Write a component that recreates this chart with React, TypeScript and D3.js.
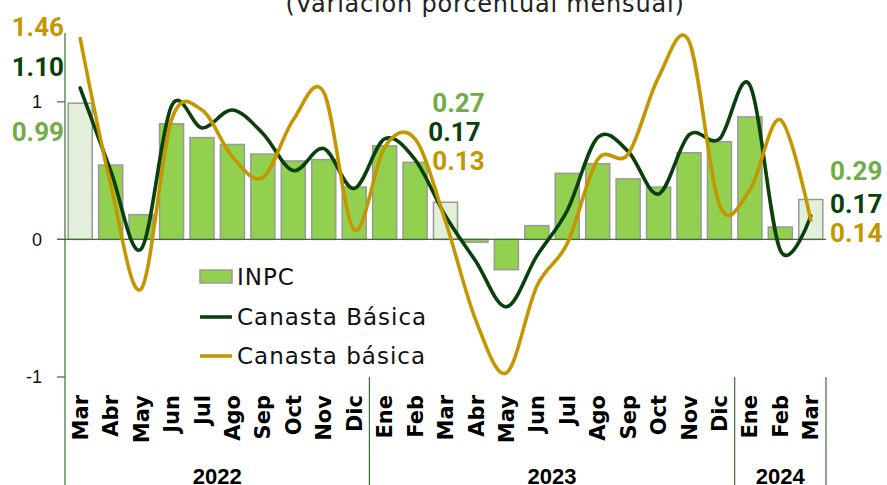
import React, { useEffect, useRef } from "react";
import * as d3 from "d3";

// meses de mar-2022 a mar-2024
const months = ["Mar", "Abr", "May", "Jun", "Jul", "Ago", "Sep", "Oct", "Nov", "Dic",
  "Ene", "Feb", "Mar", "Abr", "May", "Jun", "Jul", "Ago", "Sep", "Oct", "Nov", "Dic",
  "Ene", "Feb", "Mar"];
const yearLabels = ["2022", "2023", "2024"];
const yearStart = [0, 10, 22];
const yearEnd = [9, 21, 24];

const inpc = [0.99, 0.54, 0.18, 0.84, 0.74, 0.69, 0.62, 0.57, 0.58, 0.38,
  0.68, 0.56, 0.27, -0.02, -0.22, 0.10, 0.48, 0.55, 0.44, 0.38, 0.63, 0.71,
  0.89, 0.09, 0.29];
const canastaVerde = [1.10, 0.50, -0.07, 0.97, 0.81, 0.94, 0.77, 0.50, 0.66, 0.37,
  0.73, 0.58, 0.17, -0.16, -0.49, -0.12, 0.21, 0.74, 0.64, 0.33, 0.76, 0.73,
  1.12, -0.08, 0.17];
const canastaOro = [1.46, 0.40, -0.36, 0.87, 0.94, 0.60, 0.45, 0.87, 1.07, 0.07,
  0.67, 0.73, 0.13, -0.59, -0.97, -0.34, -0.03, 0.58, 0.62, 1.18, 1.44, 0.25,
  0.36, 0.87, 0.14];
const highlighted = [0, 12, 24];
const yTicks = [-1, 0, 1];

const C_BAR = "#92d050";
const C_BAR_LIGHT = "#e2efda";
const C_GREEN = "#0b3f0b";
const C_GOLD = "#c49600";
const C_LABEL = "#70ad47";
const C_AXIS = "#3e6e36";

export default function App() {
  const ref = useRef<SVGSVGElement>(null);

  useEffect(() => {
    const height = 485;
    const left = 65, right = 826, top = 33, bottom = 377;

    const svg = d3.select(ref.current);
    svg.selectAll("*").remove();

    const x = d3.scaleBand<number>()
      .domain(months.map((_, i) => i))
      .range([left, right])
      .paddingInner(0.21)
      .paddingOuter(0.105);
    const cx = (i: number) => (x(i) as number) + x.bandwidth() / 2;

    const y = d3.scaleLinear().domain([-1, 1.5]).range([bottom, top]);

    // title (cut off at the top, as in the original)
    svg.append("text")
      .attr("x", 485).attr("y", 12)
      .attr("text-anchor", "middle")
      .attr("font-family", "DejaVu Sans")
      .attr("font-size", 24)
      .attr("letter-spacing", 0.8)
      .attr("fill", "#222")
      .text("(Variación porcentual mensual)");

    // bars
    svg.selectAll("rect.bar")
      .data(inpc)
      .enter().append("rect")
      .attr("class", "bar")
      .attr("x", (d, i) => x(i) as number)
      .attr("width", x.bandwidth())
      .attr("y", d => y(Math.max(0, d)))
      .attr("height", d => Math.abs(y(d) - y(0)))
      .attr("fill", (d, i) => highlighted.includes(i) ? C_BAR_LIGHT : C_BAR)
      .attr("stroke", "#999")
      .attr("stroke-width", 1.5);

    // axes
    svg.append("line")
      .attr("x1", left).attr("x2", left)
      .attr("y1", top).attr("y2", height)
      .attr("stroke", C_AXIS).attr("stroke-width", 1.2);
    svg.append("line")
      .attr("x1", left - 8).attr("x2", right)
      .attr("y1", y(0)).attr("y2", y(0))
      .attr("stroke", C_AXIS).attr("stroke-width", 1.4);

    yTicks.forEach(t => {
      svg.append("line")
        .attr("x1", left - 8).attr("x2", left)
        .attr("y1", y(t)).attr("y2", y(t))
        .attr("stroke", C_AXIS).attr("stroke-width", 1.2);
      svg.append("text")
        .attr("x", left - 23).attr("y", y(t))
        .attr("dy", "0.36em")
        .attr("text-anchor", "end")
        .attr("font-family", "Liberation Sans")
        .attr("font-size", 18)
        .attr("fill", "#111")
        .text(t);
    });

    // year separators
    [yearStart[1], yearStart[2]].forEach(i => {
      const sx = (x(i) as number) - x.step() * 0.105;
      svg.append("line")
        .attr("x1", sx).attr("x2", sx)
        .attr("y1", bottom).attr("y2", height)
        .attr("stroke", C_AXIS).attr("stroke-width", 1.2);
    });
    svg.append("line")
      .attr("x1", right).attr("x2", right)
      .attr("y1", bottom).attr("y2", height)
      .attr("stroke", C_AXIS).attr("stroke-width", 1.2);

    // month labels
    months.forEach((m, i) => {
      svg.append("text")
        .attr("transform", `translate(${cx(i)},395) rotate(-90)`)
        .attr("dy", "0.36em")
        .attr("text-anchor", "end")
        .attr("font-family", "DejaVu Sans")
        .attr("font-weight", "bold")
        .attr("font-size", 21)
        .attr("fill", "#000")
        .text(m);
    });

    yearLabels.forEach((yl, k) => {
      const a = (x(yearStart[k]) as number) - x.step() * 0.105;
      const b = (x(yearEnd[k]) as number) + x.bandwidth() + x.step() * 0.105;
      svg.append("text")
        .attr("x", (a + b) / 2).attr("y", 484)
        .attr("text-anchor", "middle")
        .attr("font-family", "Liberation Sans")
        .attr("font-weight", "bold")
        .attr("font-size", 22)
        .attr("fill", "#000")
        .text(yl);
    });

    // lines
    const line = d3.line<number>()
      .x((d, i) => cx(i))
      .y(d => y(d))
      .curve(d3.curveCardinal.tension(0));

    svg.append("path")
      .attr("d", line(canastaVerde))
      .attr("fill", "none")
      .attr("stroke", C_GREEN)
      .attr("stroke-width", 3.6)
      .attr("stroke-linecap", "round");
    svg.append("path")
      .attr("d", line(canastaOro))
      .attr("fill", "none")
      .attr("stroke", C_GOLD)
      .attr("stroke-width", 3.6)
      .attr("stroke-linecap", "round");

    // legend
    const lg = svg.append("g")
      .attr("font-family", "DejaVu Sans")
      .attr("font-size", 23)
      .attr("letter-spacing", 1)
      .attr("fill", "#111");
    lg.append("rect").attr("x", 200).attr("y", 270).attr("width", 32).attr("height", 13)
      .attr("fill", C_BAR).attr("stroke", "#999").attr("stroke-width", 1.5);
    lg.append("text").attr("x", 237).attr("y", 277).attr("dy", "0.36em").text("INPC");
    lg.append("line").attr("x1", 200).attr("x2", 232).attr("y1", 317).attr("y2", 317)
      .attr("stroke", C_GREEN).attr("stroke-width", 3.6);
    lg.append("text").attr("x", 237).attr("y", 317).attr("dy", "0.36em").text("Canasta Básica");
    lg.append("line").attr("x1", 200).attr("x2", 232).attr("y1", 356).attr("y2", 356)
      .attr("stroke", C_GOLD).attr("stroke-width", 3.6);
    lg.append("text").attr("x", 237).attr("y", 356).attr("dy", "0.36em").text("Canasta básica");

    // value labels
    const label = (tx: number, ty: number, anchor: string, color: string, v: number) => {
      svg.append("text")
        .attr("x", tx).attr("y", ty)
        .attr("dy", "0.36em")
        .attr("text-anchor", anchor)
        .attr("font-family", "Roboto")
        .attr("font-weight", "bold")
        .attr("font-size", 26)
        .attr("fill", color)
        .text(v.toFixed(2));
    };
    const first = highlighted[0], mid = highlighted[1], last = highlighted[2];
    label(left - 1, 27, "end", C_GOLD, canastaOro[first]);
    label(left - 1, 67, "end", C_GREEN, canastaVerde[first]);
    label(left - 1, 132, "end", C_LABEL, inpc[first]);

    label(cx(mid) + 13, 103, "middle", C_LABEL, inpc[mid]);
    label(cx(mid) + 9, 132, "middle", C_GREEN, canastaVerde[mid]);
    label(cx(mid) + 13, 161, "middle", C_GOLD, canastaOro[mid]);

    label(right + 4, 171, "start", C_LABEL, inpc[last]);
    label(right + 4, 204, "start", C_GREEN, canastaVerde[last]);
    label(right + 4, 233, "start", C_GOLD, canastaOro[last]);
  }, []);

  return (
    <svg ref={ref} width={887} height={485}
      style={{ position: "absolute", left: 0, top: 0, background: "#fff" }} />
  );
}
